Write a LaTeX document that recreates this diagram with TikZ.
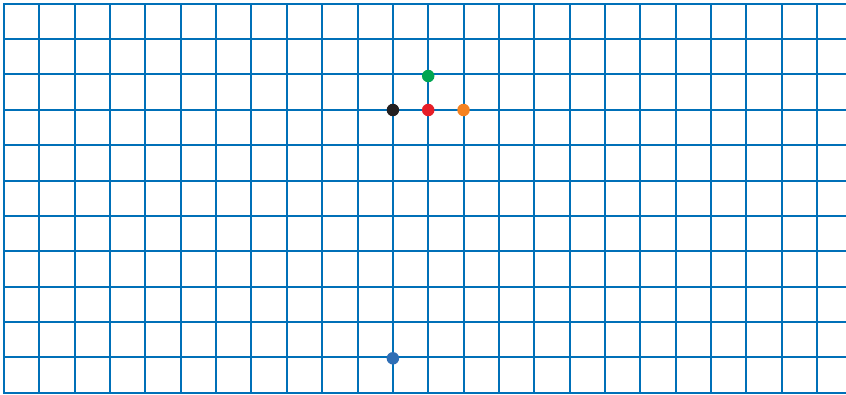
\documentclass[tikz,border=0pt]{standalone}
\definecolor{gridblue}{RGB}{0,112,184}
\definecolor{dotgreen}{RGB}{0,166,81}
\definecolor{dotred}{RGB}{230,30,40}
\definecolor{dotorange}{RGB}{245,130,32}
\definecolor{dotblack}{RGB}{35,31,32}
\definecolor{dotblue}{RGB}{47,110,181}
\begin{document}
\begin{tikzpicture}[x=1pt,y=-1pt,
  gridline/.style={draw=gridblue,line width=2pt},
  dot/.style={circle,inner sep=0pt,minimum size=12.5pt}]
\useasboundingbox (0,0) rectangle (846,394);
\foreach \k in {0,...,23}{
  \draw[gridline] ({4+35.35*\k},3.7) -- ({4+35.35*\k},392.7);
}
\foreach \k in {0,...,11}{
  \draw[gridline] (3,{3.7+35.36*\k}) -- (846,{3.7+35.36*\k});
}
\node[dot,fill=dotblack] (black) at (392.9,110) {};
\node[dot,fill=dotred] (red) at (428.2,110) {};
\node[dot,fill=dotorange] (orange) at (463.5,110) {};
\node[dot,fill=dotgreen] (green) at (428.2,76) {};
\node[dot,fill=dotblue] (blue) at (392.9,358.3) {};
\end{tikzpicture}
\end{document}
